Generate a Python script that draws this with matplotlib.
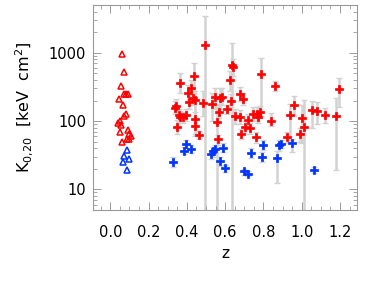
import matplotlib as mpl
import matplotlib.pyplot as plt
import numpy as np
from matplotlib.ticker import MultipleLocator, FixedLocator, NullFormatter

mpl.rcParams['font.family'] = ['DejaVu Sans']
mpl.rcParams['mathtext.fontset'] = 'dejavusans'

# low-z sample (open triangles)
tri_red_z = [0.063, 0.073, 0.056, 0.073, 0.047, 0.083, 0.090, 0.066, 0.083, 0.073,
             0.052, 0.056, 0.052, 0.094, 0.100, 0.110, 0.085, 0.061, 0.096, 0.042]
tri_red_k = [970, 515, 327, 252, 213, 252, 247, 170, 128, 118,
             99, 88, 70, 73, 65, 60, 55, 50, 55, 95]
tri_blue_z = [0.087, 0.073, 0.100, 0.066, 0.087]
tri_blue_k = [38, 31, 28, 25, 19.5]

# high-z sample (crosses) with error bar extents
red_z = [0.336, 0.344, 0.348, 0.357, 0.362, 0.365, 0.379, 0.395, 0.405, 0.410,
         0.421, 0.431, 0.435, 0.442, 0.445, 0.440, 0.464, 0.482, 0.494, 0.530,
         0.548, 0.557, 0.562, 0.570, 0.574, 0.586, 0.609, 0.626, 0.630, 0.635,
         0.643, 0.652, 0.678, 0.680, 0.683, 0.695, 0.704, 0.722, 0.730, 0.746,
         0.760, 0.765, 0.772, 0.783, 0.788, 0.838, 0.861, 0.925, 0.940, 0.960,
         0.991, 1.000, 1.012, 1.056, 1.078, 1.120, 1.177, 1.197]
red_k = [155, 165, 81, 121, 115, 366, 113, 122, 262, 190,
         307, 217, 459, 206, 84, 108, 63, 186, 1300, 180,
         226, 96, 54, 135, 220, 226, 148, 397, 200, 660,
         620, 117, 252, 114, 65, 212, 81, 102, 79, 128,
         58, 128, 114, 136, 497, 100, 327, 58, 124, 170,
         65, 110, 83, 147, 139, 121, 117, 298]
red_lo = [125, 130, 65, 100, 95, 260, 95, 100, 200, 150,
          240, 170, 260, 60, 65, 85, 55, 120, 4, 100,
          150, 4, 45, 110, 150, 170, 125, 280, 160, 4,
          450, 90, 200, 90, 55, 170, 65, 80, 65, 100,
          48, 100, 95, 110, 120, 85, 280, 47, 50, 120,
          50, 48, 4, 80, 90, 95, 19, 160]
red_hi = [200, 210, 105, 150, 140, 500, 135, 150, 340, 240,
          400, 280, 700, 280, 105, 135, 72, 280, 3500, 260,
          300, 180, 63, 170, 310, 300, 170, 550, 250, 1400,
          800, 150, 320, 145, 77, 260, 100, 125, 95, 160,
          70, 160, 135, 165, 830, 130, 390, 70, 180, 230,
          80, 170, 205, 200, 190, 155, 215, 430]

blue_z = [0.325, 0.383, 0.397, 0.421, 0.525, 0.539, 0.548, 0.574, 0.591, 0.597,
          0.700, 0.722, 0.734, 0.791, 0.800, 0.870, 0.883, 0.890, 0.948, 1.064]
blue_k = [25.5, 37, 46.5, 39, 32.5, 36, 39, 25.8, 41, 20.4,
          18.4, 17, 34, 30, 45, 29, 45, 45.5, 48, 19.3]
blue_lo = [21, 33, 40, 34, 28, 30, 33, 22, 35, 18,
           16.5, 15.5, 29, 25, 38, 12.5, 37, 40, 35, 17.5]
blue_hi = [30, 42, 53, 44, 37, 42, 45, 30, 47, 23,
           20, 18.5, 40, 35, 52, 37, 53, 52, 55, 21]


def plot():
    fig = plt.figure(figsize=(3.74, 2.81), dpi=100)
    ax = fig.add_axes([0.249, 0.253, 0.706, 0.729])
    ax.set_yscale('log')

    err_kw = dict(fmt='none', ecolor='#d2d2d2', elinewidth=1.8, capsize=2.4,
                  capthick=1.0, zorder=1)
    rk = np.array(red_k)
    ax.errorbar(red_z, rk, yerr=[rk - np.array(red_lo), np.array(red_hi) - rk], **err_kw)
    bk = np.array(blue_k)
    ax.errorbar(blue_z, bk, yerr=[bk - np.array(blue_lo), np.array(blue_hi) - bk], **err_kw)

    ax.plot(red_z, red_k, 'P', color='#ff0000', ms=6.3, mec='#ff0000', mew=0.5, zorder=3)
    ax.plot(blue_z, blue_k, 'P', color='#0033ff', ms=6.3, mec='#0033ff', mew=0.5, zorder=3)
    ax.plot(tri_red_z, tri_red_k, '^', mfc='none', mec='#ff0000', ms=5.0, mew=1.1, zorder=3)
    ax.plot(tri_blue_z, tri_blue_k, '^', mfc='none', mec='#0033ff', ms=5.0, mew=1.1, zorder=3)

    ax.set_xlim(-0.09, 1.29)
    ax.set_ylim(5, 5000)
    ax.xaxis.set_major_locator(MultipleLocator(0.2))
    ax.xaxis.set_minor_locator(MultipleLocator(0.05))
    ax.yaxis.set_major_locator(FixedLocator([10, 100, 1000]))
    ax.set_yticklabels(['10', '100', '1000'])
    ax.yaxis.set_minor_formatter(NullFormatter())

    for s in ax.spines.values():
        s.set_color('#9a9a9a')
        s.set_linewidth(0.8)
    ax.tick_params(which='both', direction='in', top=True, right=True,
                   color='#9a9a9a', labelsize=10.5)
    ax.tick_params(which='major', length=6, width=0.7)
    ax.tick_params(which='minor', length=3, width=0.6)
    ax.tick_params(axis='x', pad=11)
    ax.tick_params(axis='y', pad=5)

    ax.set_xlabel('z', fontsize=11, labelpad=4)
    ax.set_ylabel(r'K$_{\rm 0{,}20}$  [keV  cm$^{\rm 2}$]', fontsize=11.5, labelpad=10)

    plt.savefig('out.png', dpi=100)


if __name__ == '__main__':
    plot()
